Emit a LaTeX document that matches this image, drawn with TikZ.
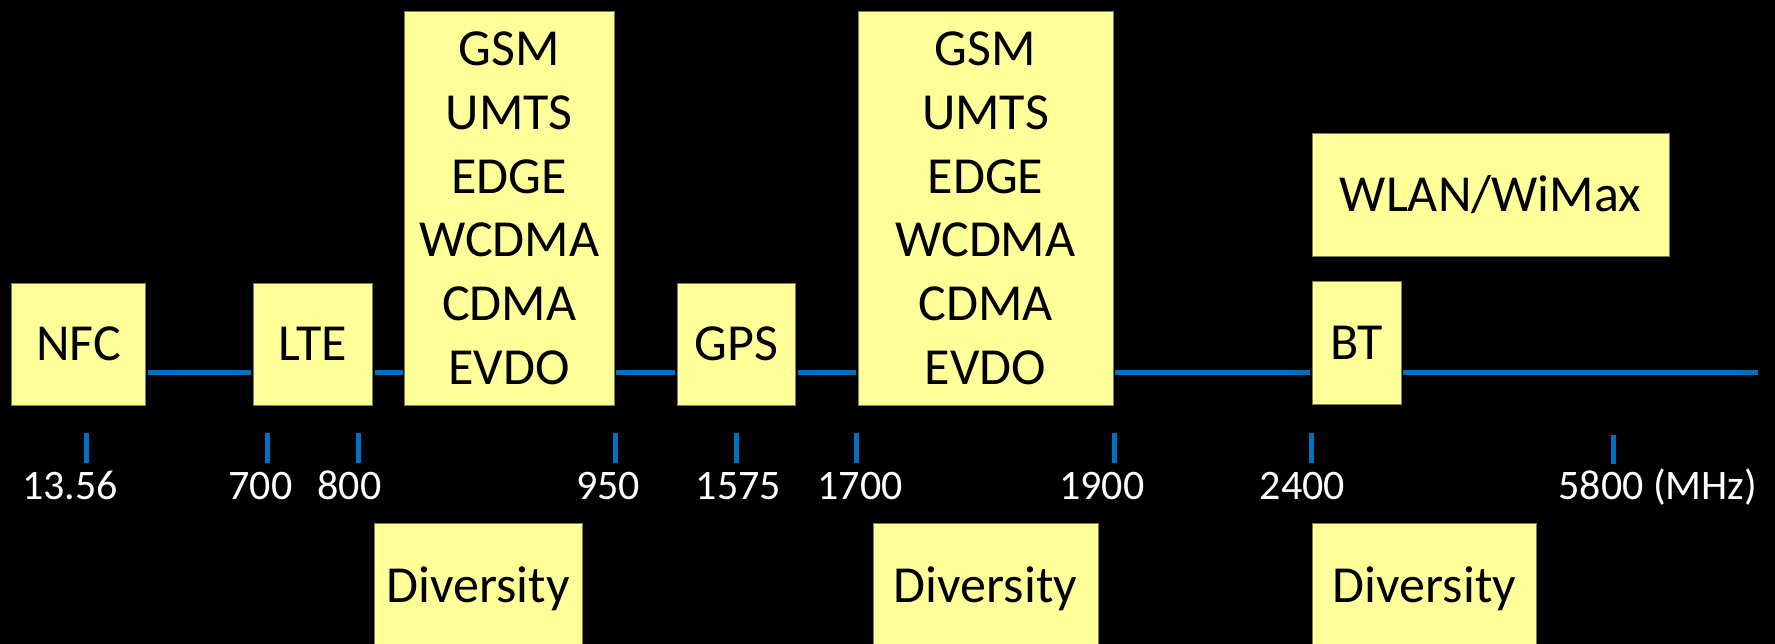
\documentclass[tikz,border=0pt]{standalone}
\usepackage{fontspec}
\setmainfont{Carlito}
\definecolor{boxfill}{HTML}{FFFF99}
\definecolor{boxedge}{HTML}{7F7F45}
\definecolor{axisblue}{HTML}{0070C0}
\begin{document}
\begin{tikzpicture}[x=1pt,y=-1pt,
  basebox/.style={draw=boxedge, line width=0.8pt, fill=boxfill, inner sep=0pt, outer sep=0pt,
    font=\fontsize{52}{63.7}\selectfont, align=center},
  box/.style={basebox, text height=33pt, text depth=0pt},
  multibox/.style={basebox},
  axisline/.style={draw=axisblue, line width=5pt, shorten <=2pt, shorten >=2pt},
  tickmark/.style={draw=axisblue, line width=5pt},
  freq/.style={text=white, inner sep=0pt, anchor=base, font=\fontsize{42}{50}\selectfont}
]
\useasboundingbox[fill=black] (0,0) rectangle (1775,644);
\coordinate (ax) at (0,372.5);
\coordinate (axend) at (1757.5,372.5);
% boxes: centre, width, height
\node[box, minimum width=134pt, minimum height=122.5pt] (nfc) at (78.5,344.25) {NFC};
\node[box, minimum width=119.5pt, minimum height=122.5pt] (lte) at (312.75,344.25) {LTE};
\node[multibox, minimum width=209.5pt, minimum height=394.5pt] (gsma) at (509.25,208.25) {GSM\\UMTS\\EDGE\\WCDMA\\CDMA\\EVDO};
\node[box, minimum width=118.5pt, minimum height=122.5pt] (gps) at (736.25,344.25) {GPS};
\node[multibox, minimum width=255pt, minimum height=394.5pt] (gsmb) at (985.5,208.25) {GSM\\UMTS\\EDGE\\WCDMA\\CDMA\\EVDO};
\node[box, minimum width=89pt, minimum height=122.5pt] (bt) at (1356.5,342.75) {BT};
\node[box, minimum width=357pt, minimum height=123pt] (wlan) at (1490.5,195) {WLAN/WiMax};
\node[box, minimum width=208pt, minimum height=126pt] (diva) at (478,586) {Diversity};
\node[box, minimum width=225pt, minimum height=126pt] (divb) at (985.5,586) {Diversity};
\node[box, minimum width=224.7pt, minimum height=126pt] (divc) at (1424.35,586) {Diversity};
% axis
\draw[axisline] (nfc.east |- ax) -- (lte.west |- ax);
\draw[axisline] (lte.east |- ax) -- (gsma.west |- ax);
\draw[axisline] (gsma.east |- ax) -- (gps.west |- ax);
\draw[axisline] (gps.east |- ax) -- (gsmb.west |- ax);
\draw[axisline] (gsmb.east |- ax) -- (bt.west |- ax);
\draw[axisline, shorten >=0pt] (bt.east |- ax) -- (axend);
% ticks
\foreach \t in {86.5,267.5,358.2,615.3,736.2,856.8,1114,1311}{
  \draw[tickmark] (\t,433) -- (\t,463);
}
\draw[tickmark] (1613.2,434.5) -- (1613.2,464);
% labels
\node[freq] (f1) at (70,499.3) {13.56};
\node[freq] (f2) at (260.4,499.3) {700};
\node[freq] (f3) at (349.5,499.3) {800};
\node[freq] (f4) at (608,499.3) {950};
\node[freq] (f5) at (738.3,499.3) {1575};
\node[freq] (f6) at (860,499.3) {1700};
\node[freq] (f7) at (1101.7,499.3) {1900};
\node[freq] (f8) at (1302.5,499.3) {2400};
\node[freq] (f9) at (1657.8,499.3) {5800 (MHz)};
\end{tikzpicture}
\end{document}
